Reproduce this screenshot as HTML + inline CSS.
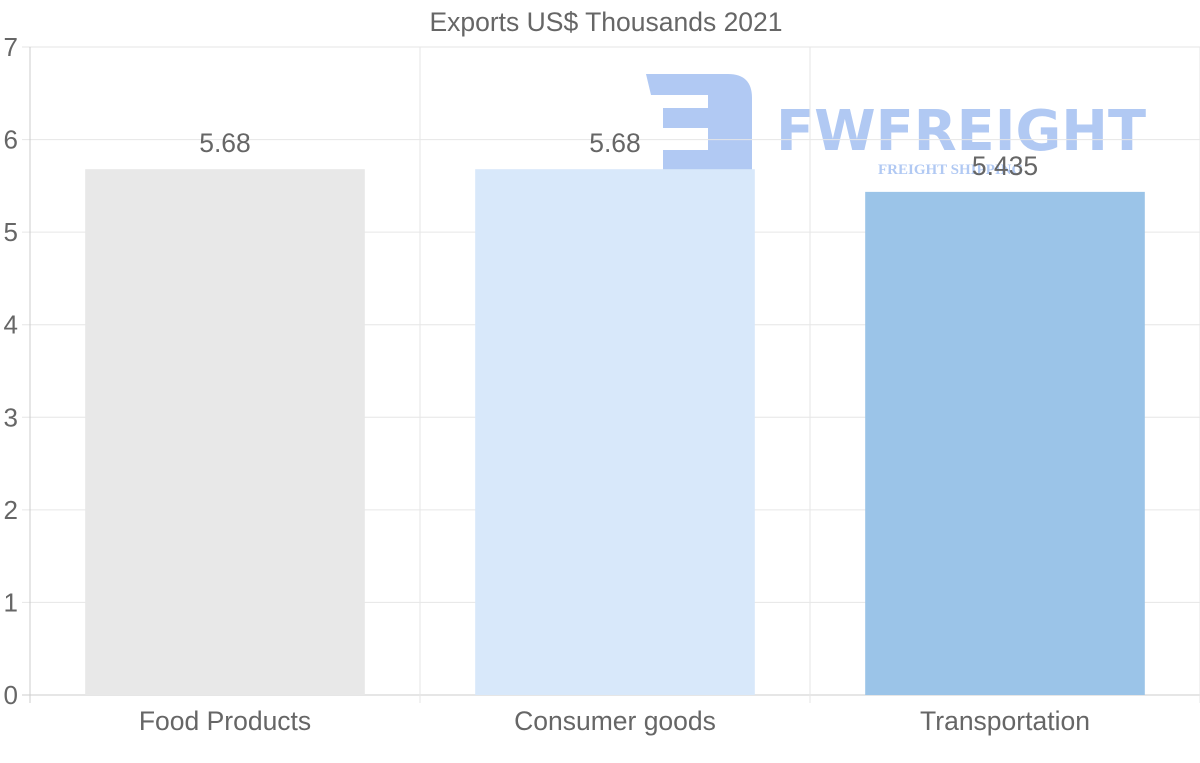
<!DOCTYPE html>
<html><head><meta charset="utf-8"><style>
html,body{margin:0;padding:0;background:#fff;}
svg{display:block;font-family:"Liberation Sans",sans-serif;}
</style></head><body>
<svg id="chart" width="1200" height="763">
<g id="wm">
<path d="M646,74 H728 Q752,74 752,98 V170 H663 V150 H708 V128 H663 V108 H708 V95 H651 Z" fill="#b1c9f3"/>
<text x="776" y="150" font-size="56" font-weight="bold" fill="#b1c9f3" textLength="370" lengthAdjust="spacingAndGlyphs" font-family="DejaVu Sans, sans-serif">FWFREIGHT</text>
<text x="878" y="174" font-size="15" font-weight="bold" fill="#b1c9f3" font-family="Liberation Serif, serif">FREIGHT SHIPPING</text>
</g>
<g id="grid"></g>
<g id="bars"></g>
<g id="labels"></g>
<text x="606" y="31" text-anchor="middle" font-size="26.5" fill="#666">Exports US$ Thousands 2021</text>
</svg>
<script>
const categories=["Food Products","Consumer goods","Transportation"];
const values=[5.68,5.68,5.435];
const colors=["#e8e8e8","#d8e8fa","#9bc4e8"];
const yTicks=[0,1,2,3,4,5,6,7];
const L=30,R=1200,T=47,B=695,yMax=7;
const y=v=>B-(v/yMax)*(B-T);
const bw=(R-L)/categories.length;
const x=i=>L+bw*i;
const ns="http://www.w3.org/2000/svg";
function mk(tag,attrs,parent,text){const e=document.createElementNS(ns,tag);for(const k in attrs)e.setAttribute(k,attrs[k]);if(text!==undefined)e.textContent=text;document.getElementById(parent).appendChild(e);return e;}
yTicks.forEach(t=>{
 const g=mk('line',{x1:22,x2:R,y1:y(t),y2:y(t),stroke:t===0?'#ccc':'#e6e6e6','stroke-width':1},'grid');
 
 
 const l=mk('text',{x:18,y:y(t)+9,'text-anchor':'end','font-size':26,fill:'#666'},'labels',String(t));
 
 
});
for(let i=0;i<=categories.length;i++){
 const g=mk('line',{x1:x(i),x2:x(i),y1:T,y2:B+8,stroke:i===0?'#ccc':'#e6e6e6','stroke-width':1},'grid');
 
 
}
categories.forEach((c,i)=>{
 const w=bw*0.717,cx=x(i)+bw/2;
 const r=mk('rect',{x:cx-w/2,y:y(values[i]),width:w,height:B-y(values[i]),fill:colors[i]},'bars');
 
 
 const v=mk('text',{x:cx,y:y(values[i])-17,'text-anchor':'middle','font-size':26.5,fill:'#666'},'labels',String(values[i]));
 
 
 const t=mk('text',{x:cx,y:730,'text-anchor':'middle','font-size':26.5,fill:'#666'},'labels',c);
 
 
});
</script>
</body></html>
